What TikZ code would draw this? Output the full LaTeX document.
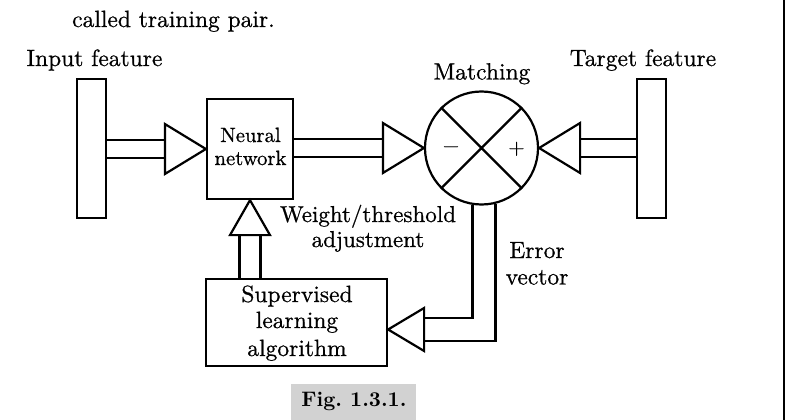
\documentclass[tikz,border=0pt]{standalone}
\usepackage{fontspec}
\setmainfont{lmroman10-regular.otf}[BoldFont=lmroman10-bold.otf,UprightFeatures={FakeBold=0.7}]
\usetikzlibrary{calc}
\begin{document}
\frenchspacing
\begin{tikzpicture}[x=1pt,y=-1pt,
  lw/.style={line width=2.2pt},
  bar/.style={draw,lw,minimum width=29pt,minimum height=139pt,inner sep=0pt},
  blk/.style={draw,lw,inner sep=0pt},
  shaft/.style={lw,line join=miter},
  tri/.style={lw,fill=white,line join=miter},
  lab/.style={inner sep=0pt,anchor=base,font=\fontsize{23.5}{27}\selectfont},
  small/.style={inner sep=0pt,anchor=base,font=\fontsize{20.7}{24}\selectfont},
  sign/.style={inner sep=0pt,font=\fontsize{21}{24}\selectfont}]
\useasboundingbox (0,0) rectangle (788,420);

% blocks
\node[bar] (inbar) at (91.5,148.5) {};
\node[bar] (tgt) at (651.5,148.5) {};
\node[blk,minimum width=86pt,minimum height=100pt] (nn) at (250,149) {};
\node[blk,circle,minimum size=113pt] (match) at (481.5,148) {};
\node[blk,minimum width=181pt,minimum height=87pt] (sla) at (296.5,322.5) {};
\draw[lw] (match.45) -- (match.225) (match.135) -- (match.315);
\node[sign,anchor=base] (minus) at (451,152) {−};
\node[sign,anchor=base] (plus) at (516.5,154) {+};

% arrow 1: input -> neural network
\coordinate (a1) at ($(nn.west)+(-41,0)$);
\coordinate (a1u) at ($(a1)+(0,-9)$);
\coordinate (a1d) at ($(a1)+(0,9)$);
\draw[shaft] (a1u) -- (a1u -| inbar.east) (a1d) -- (a1d -| inbar.east);
\draw[tri] (nn.west) -- ($(a1)+(0,-25)$) -- ($(a1)+(0,25)$) -- cycle;

% arrow 2: neural network -> matching
\coordinate (a2) at ($(match.west)+(-41,0)$);
\coordinate (a2u) at ($(a2)+(0,-9)$);
\coordinate (a2d) at ($(a2)+(0,9)$);
\draw[shaft] (a2u) -- (a2u -| nn.east) (a2d) -- (a2d -| nn.east);
\draw[tri] (match.west) -- ($(a2)+(0,-25)$) -- ($(a2)+(0,25)$) -- cycle;

% arrow 3: target -> matching
\coordinate (a3) at ($(match.east)+(41,0)$);
\coordinate (a3u) at ($(a3)+(0,-9)$);
\coordinate (a3d) at ($(a3)+(0,9)$);
\draw[shaft] (a3u) -- (a3u -| tgt.west) (a3d) -- (a3d -| tgt.west);
\draw[tri] (match.east) -- ($(a3)+(0,-25)$) -- ($(a3)+(0,25)$) -- cycle;

% arrow 4: supervised learning -> neural network
\coordinate (a4) at ($(nn.south)+(0,35)$);
\coordinate (a4l) at ($(a4)+(-10.5,0)$);
\coordinate (a4r) at ($(a4)+(10.5,0)$);
\draw[shaft] (a4l) -- (a4l |- sla.north) (a4r) -- (a4r |- sla.north);
\draw[tri] (nn.south) -- ($(a4)+(-20,0)$) -- ($(a4)+(20,0)$) -- cycle;

% arrow 5: matching -> supervised learning (error vector)
\coordinate (t5) at ($(sla.east)+(0,7)$);
\coordinate (a5) at ($(t5)+(36,0)$);
\coordinate (a5u) at ($(a5)+(0,-11.5)$);
\coordinate (a5d) at ($(a5)+(0,11.5)$);
\coordinate (e1) at (match.261.35);
\coordinate (e2) at (match.284.87);
\draw[shaft] (e1) |- (a5u) (e2) |- (a5d);
\draw[tri] (t5) -- ($(a5)+(0,-21.5)$) -- ($(a5)+(0,21.5)$) -- cycle;

% labels
\node[lab,anchor=base west] (top) at (72,27) {called training pair.};
\node[lab] (inl) at (94.5,66) {Input feature};
\node[lab] (tgl) at (643,66) {Target feature};
\node[lab] (mtl) at (482,79.5) {Matching};
\node[small] (nn1) at (250.5,142) {Neural};
\node[small] (nn2) at (250.5,165) {network};
\node[lab,font=\fontsize{23}{27}\selectfont] (w1) at (368,222) {Weight/threshold};
\node[lab,font=\fontsize{23}{27}\selectfont] (w2) at (368,247) {adjustment};
\node[lab] (ev1) at (537,258) {Error};
\node[lab] (ev2) at (537,284.5) {vector};
\node[lab] (s1) at (297,302) {Supervised};
\node[lab] (s2) at (297,328) {learning};
\node[lab] (s3) at (297,356) {algorithm};

% caption
\node[fill=gray!35,minimum width=125pt,minimum height=36pt,inner sep=0pt] (figbox) at (353.5,402) {};
\node[inner sep=0pt,anchor=base,font=\fontsize{21}{25}\selectfont\bfseries] (fig) at (354,406) {Fig. 1.3.1.};

% right frame edge
\coordinate (r1) at (784,0);
\coordinate (r2) at (784,420);
\draw[line width=1.5pt] (r1) -- (r2);
\end{tikzpicture}
\end{document}
